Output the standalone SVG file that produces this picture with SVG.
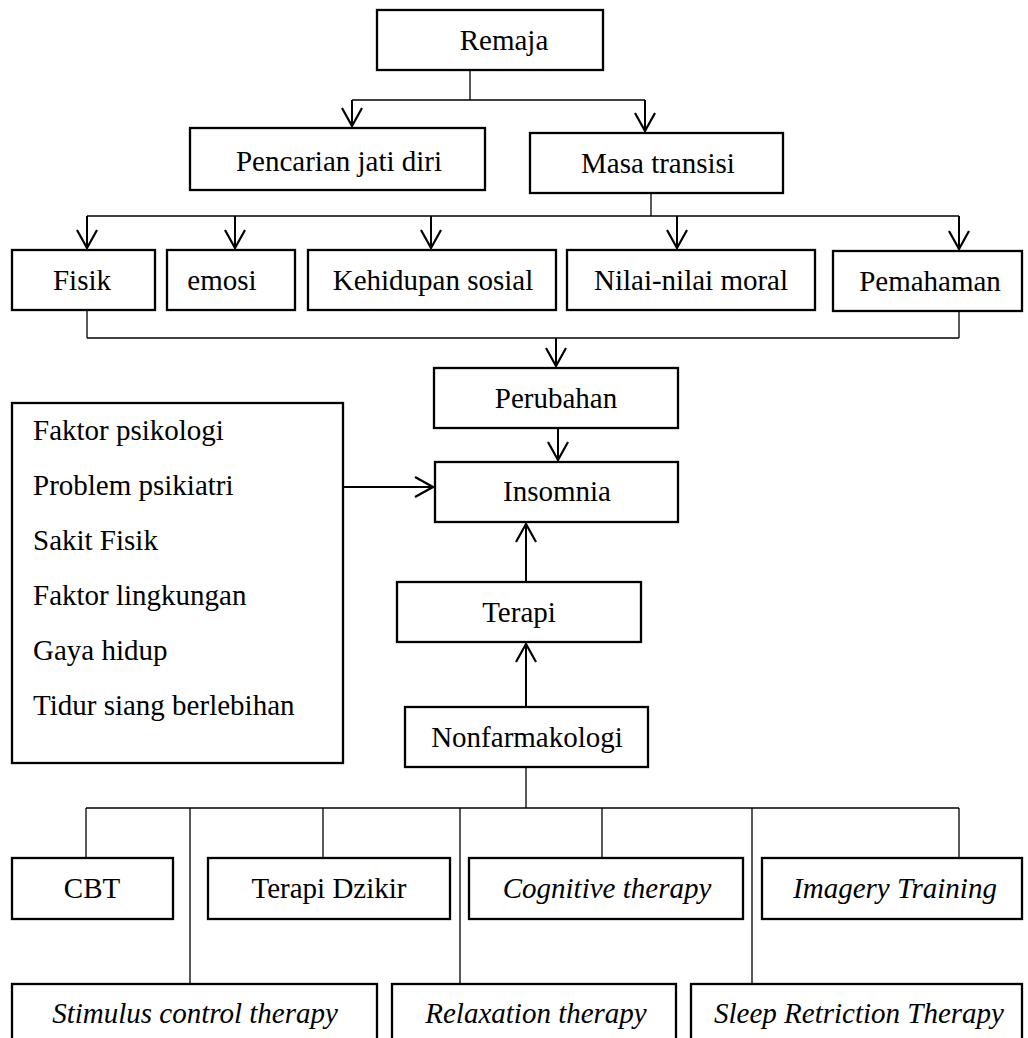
<svg xmlns="http://www.w3.org/2000/svg" width="1028" height="1038" viewBox="0 0 1028 1038">
<style>
.box{fill:#fff;stroke:#000;stroke-width:2.3}
.t{font-family:"Liberation Serif","Times New Roman",serif;font-size:29px;fill:#000;text-anchor:middle}
.l{font-family:"Liberation Serif","Times New Roman",serif;font-size:29px;fill:#000}
.i{font-style:italic}
.ln{stroke:#000;stroke-width:1.3;fill:none}
.ar{stroke:#000;stroke-width:2;fill:none;marker-end:url(#arr)}
</style>
<defs>
<marker id="arr" viewBox="-20 -12 22 24" refX="0" refY="0" markerWidth="22" markerHeight="24" markerUnits="userSpaceOnUse" orient="auto">
<path d="M-18,-10 L0,0 L-18,10" fill="none" stroke="#000" stroke-width="2.2"/>
</marker>
</defs>
<rect width="1028" height="1038" fill="#fff"/>
<g id="connectors">
<line class="ln" x1="470" y1="70" x2="470" y2="100"/>
<line class="ln" x1="352" y1="100" x2="645" y2="100"/>
<line class="ar" x1="352" y1="100" x2="352" y2="126"/>
<line class="ar" x1="645" y1="100" x2="645" y2="131"/>
<line class="ln" x1="651" y1="193" x2="651" y2="216"/>
<line class="ln" x1="87" y1="216" x2="959" y2="216"/>
<line class="ar" x1="87" y1="216" x2="87" y2="248"/>
<line class="ar" x1="235" y1="216" x2="235" y2="248"/>
<line class="ar" x1="431" y1="216" x2="431" y2="248"/>
<line class="ar" x1="677" y1="216" x2="677" y2="248"/>
<line class="ar" x1="959" y1="216" x2="959" y2="249"/>
<line class="ln" x1="87" y1="310" x2="87" y2="338"/>
<line class="ln" x1="959" y1="311" x2="959" y2="338"/>
<line class="ln" x1="87" y1="338" x2="959" y2="338"/>
<line class="ar" x1="556" y1="338" x2="556" y2="366"/>
<line class="ar" x1="558" y1="428" x2="558" y2="460"/>
<line class="ar" x1="343" y1="487" x2="433" y2="487"/>
<line class="ar" x1="526" y1="582" x2="526" y2="524"/>
<line class="ar" x1="526" y1="707" x2="526" y2="644"/>
<line class="ln" x1="526" y1="767" x2="526" y2="808"/>
<line class="ln" x1="86" y1="808" x2="959" y2="808"/>
<line class="ln" x1="86" y1="808" x2="86" y2="858"/>
<line class="ln" x1="190" y1="808" x2="190" y2="984"/>
<line class="ln" x1="323" y1="808" x2="323" y2="858"/>
<line class="ln" x1="460" y1="808" x2="460" y2="984"/>
<line class="ln" x1="602" y1="808" x2="602" y2="858"/>
<line class="ln" x1="752" y1="808" x2="752" y2="984"/>
<line class="ln" x1="959" y1="808" x2="959" y2="858"/>
</g>
<g id="remaja"><rect class="box" x="377" y="10" width="226" height="60"/><text class="t" x="504" y="50">Remaja</text></g>
<g id="pencarian"><rect class="box" x="190" y="128" width="295" height="62"/><text class="t" x="339" y="171">Pencarian jati diri</text></g>
<g id="masa"><rect class="box" x="530" y="133" width="253" height="60"/><text class="t" x="658" y="173">Masa transisi</text></g>
<g id="fisik"><rect class="box" x="12" y="250" width="143" height="60"/><text class="t" x="82" y="290">Fisik</text></g>
<g id="emosi"><rect class="box" x="167" y="250" width="128" height="60"/><text class="t" x="222" y="290">emosi</text></g>
<g id="kehidupan"><rect class="box" x="308" y="250" width="248" height="60"/><text class="t" x="433" y="290">Kehidupan sosial</text></g>
<g id="nilai"><rect class="box" x="567" y="250" width="248" height="60"/><text class="t" x="691" y="290">Nilai-nilai moral</text></g>
<g id="pemahaman"><rect class="box" x="833" y="251" width="189" height="60"/><text class="t" x="930" y="291">Pemahaman</text></g>
<g id="perubahan"><rect class="box" x="434" y="368" width="244" height="60"/><text class="t" x="556" y="408">Perubahan</text></g>
<g id="faktor"><rect class="box" x="12" y="403" width="331" height="360"/>
<text class="l" x="33" y="440">Faktor psikologi</text>
<text class="l" x="33" y="495">Problem psikiatri</text>
<text class="l" x="33" y="550">Sakit Fisik</text>
<text class="l" x="33" y="605">Faktor lingkungan</text>
<text class="l" x="33" y="660">Gaya hidup</text>
<text class="l" x="33" y="715">Tidur siang berlebihan</text></g>
<g id="insomnia"><rect class="box" x="435" y="462" width="243" height="60"/><text class="t" x="557" y="501">Insomnia</text></g>
<g id="terapi"><rect class="box" x="397" y="582" width="244" height="60"/><text class="t" x="519" y="622">Terapi</text></g>
<g id="nonfarmakologi"><rect class="box" x="405" y="707" width="243" height="60"/><text class="t" x="527" y="747">Nonfarmakologi</text></g>
<g id="cbt"><rect class="box" x="12" y="858" width="161" height="61"/><text class="t" x="92" y="898">CBT</text></g>
<g id="dzikir"><rect class="box" x="208" y="858" width="242" height="61"/><text class="t" x="329" y="898">Terapi Dzikir</text></g>
<g id="cognitive"><rect class="box" x="469" y="858" width="274" height="61"/><text class="t i" x="607" y="898">Cognitive therapy</text></g>
<g id="imagery"><rect class="box" x="762" y="858" width="260" height="61"/><text class="t i" x="895" y="898">Imagery Training</text></g>
<g id="stimulus"><rect class="box" x="12" y="984" width="365" height="70"/><text class="t i" x="195" y="1023">Stimulus control therapy</text></g>
<g id="relaxation"><rect class="box" x="392" y="984" width="284" height="70"/><text class="t i" x="536" y="1023">Relaxation therapy</text></g>
<g id="sleep"><rect class="box" x="691" y="984" width="331" height="70"/><text class="t i" x="859" y="1023">Sleep Retriction Therapy</text></g>
</svg>
